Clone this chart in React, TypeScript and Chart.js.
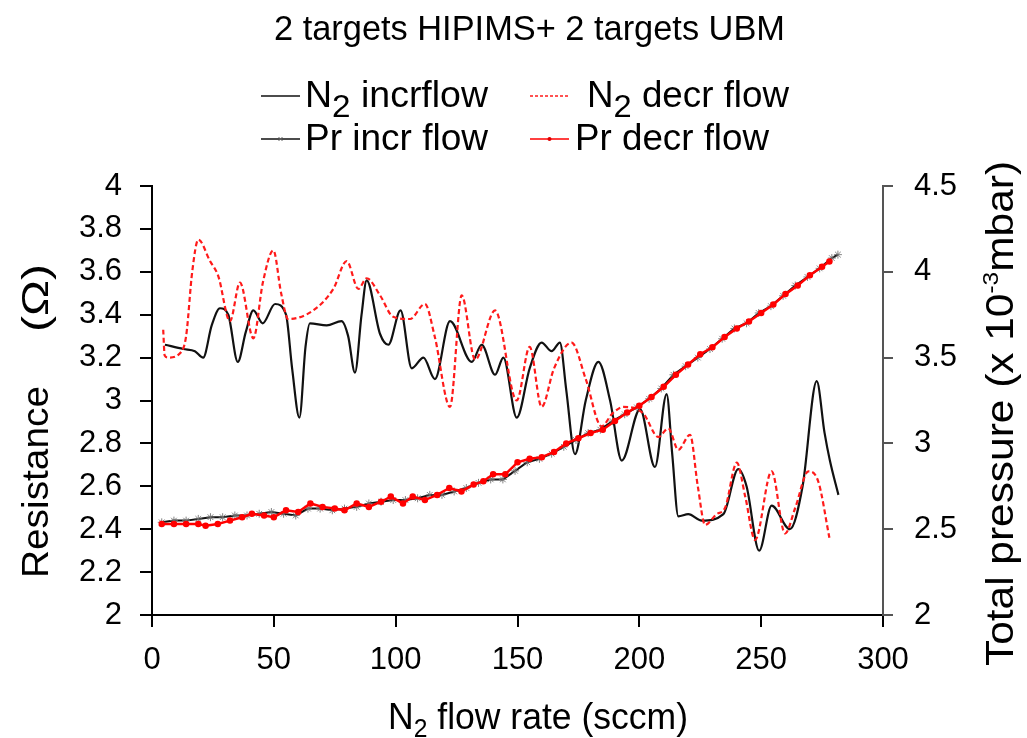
import React, { useEffect, useRef } from "react";
import { Chart, registerables } from "chart.js";

Chart.register(...registerables);

const FONT = "'Liberation Sans', Arial, Helvetica, sans-serif";

// ---- Data ----
const TITLE = "2 targets HIPIMS+ 2 targets UBM";
const SERIES_LABELS = ["N₂ incrflow", "N₂ decr flow", "Pr incr flow", "Pr decr flow"];

// Resistance, N2 increasing flow
const n2IncrX = [5.3, 12.9, 17.6, 21, 24.5, 27.9, 31.3, 35.2, 38.5, 41.6, 45.4, 50.5, 55, 57.5, 60.5, 63, 64.8, 71.7, 77.8, 80.5, 83.3, 86, 88.1, 93.6, 97, 102, 106.6, 111.4, 116.1, 122.3, 131.2, 135.3, 140.8, 144.2, 149.7, 155, 159.9, 164, 167.4, 170, 173.6, 178, 183.2, 188, 192.8, 200.3, 206.4, 211.2, 213.5, 216, 220.1, 225.6, 234.5, 240.6, 244, 249.2, 254.3, 261.8, 267, 272.8, 276, 278.2, 281.7];
const n2IncrR = [3.26, 3.24, 3.23, 3.2, 3.35, 3.43, 3.4, 3.18, 3.32, 3.42, 3.36, 3.45, 3.4, 3.15, 2.92, 3.25, 3.36, 3.35, 3.37, 3.3, 3.13, 3.4, 3.56, 3.31, 3.26, 3.42, 3.15, 3.2, 3.1, 3.37, 3.18, 3.26, 3.12, 3.2, 2.92, 3.15, 3.27, 3.23, 3.27, 3.05, 2.75, 3.0, 3.18, 3.0, 2.72, 2.96, 2.69, 3.03, 2.75, 2.46, 2.47, 2.44, 2.47, 2.68, 2.6, 2.3, 2.51, 2.4, 2.6, 3.09, 2.85, 2.72, 2.56];

// Resistance, N2 decreasing flow
const n2DecrX = [4.6, 5.2, 6.7, 11.5, 14, 16.5, 19, 23.8, 27.2, 32, 36.1, 41.6, 45.5, 49.8, 53, 55.9, 66.2, 74.4, 79.9, 84.7, 88.1, 93.6, 99, 105.9, 112, 116, 122.3, 127.1, 132.6, 140.8, 149.7, 155, 159.9, 165, 172.2, 178, 184.5, 189, 193.4, 201.6, 207.8, 211.9, 216, 220.8, 224, 227, 231.7, 235.2, 240, 243.5, 247.5, 254.3, 259.8, 264, 269.4, 273.5, 278];
const n2DecrR = [3.33, 3.21, 3.2, 3.22, 3.3, 3.6, 3.75, 3.65, 3.58, 3.37, 3.55, 3.29, 3.55, 3.7, 3.5, 3.38, 3.42, 3.52, 3.65, 3.52, 3.57, 3.49, 3.39, 3.38, 3.45, 3.3, 2.97, 3.49, 3.19, 3.42, 3.0, 3.25, 2.97, 3.15, 3.27, 3.1, 2.88, 2.94, 2.97, 2.94, 2.83, 2.87, 2.77, 2.84, 2.6, 2.42, 2.47, 2.5, 2.71, 2.55, 2.35, 2.67, 2.38, 2.5, 2.67, 2.62, 2.36];

// Total pressure, increasing flow
const prIncrX = [4, 9, 14, 19, 24, 29, 34, 39, 44, 49, 54, 59, 64, 69, 74, 79, 84, 89, 94, 99, 104, 109, 114, 119, 124, 129, 134, 139, 144, 149, 154, 159, 164, 169, 174, 179, 184, 189, 194, 199, 204, 209, 214, 219, 224, 229, 234, 239, 244, 249, 254, 259, 264, 269, 274, 279, 281.5];
const prIncrP = [2.54, 2.55, 2.55, 2.56, 2.57, 2.57, 2.58, 2.58, 2.59, 2.6, 2.59, 2.58, 2.62, 2.62, 2.61, 2.62, 2.63, 2.65, 2.66, 2.67, 2.67, 2.68, 2.7, 2.7, 2.72, 2.74, 2.77, 2.79, 2.79, 2.84, 2.89, 2.91, 2.94, 2.98, 3.02, 3.06, 3.08, 3.13, 3.17, 3.21, 3.26, 3.32, 3.4, 3.45, 3.5, 3.55, 3.61, 3.67, 3.7, 3.76, 3.8, 3.86, 3.92, 3.97, 4.02, 4.08, 4.1];

// Total pressure, decreasing flow
const prDecrX = [4, 9, 14, 19, 22, 27, 32, 37, 41, 46, 50, 55, 60, 65, 70, 75, 79, 84, 89, 94, 98, 103, 107, 112, 117, 122, 127, 132, 136, 140, 145, 150, 155, 160, 165, 170, 175, 180, 185, 190, 195, 200, 205, 210, 215, 220, 225, 230, 235, 240, 245, 250, 255, 260, 265, 270, 275, 278];
const prDecrP = [2.53, 2.53, 2.53, 2.53, 2.52, 2.53, 2.55, 2.57, 2.59, 2.58, 2.57, 2.61, 2.6, 2.65, 2.63, 2.62, 2.61, 2.65, 2.63, 2.66, 2.69, 2.65, 2.69, 2.67, 2.7, 2.74, 2.72, 2.76, 2.78, 2.82, 2.82, 2.89, 2.91, 2.92, 2.95, 3.0, 3.03, 3.06, 3.08, 3.13, 3.18, 3.22, 3.27, 3.33, 3.4, 3.46, 3.52, 3.56, 3.62, 3.67, 3.71, 3.76, 3.81, 3.87, 3.92, 3.98, 4.03, 4.06];

// Axes
const X_MIN = 0, X_MAX = 300, X_STEP = 50;
const R_MIN = 2, R_MAX = 4, R_STEP = 0.2;
const P_MIN = 2, P_MAX = 4.5, P_STEP = 0.5;

const toXY = (xs: number[], ys: number[]) => xs.map((x, i) => ({ x, y: ys[i] }));
const fmt = (v: number) => String(Math.round(Number(v) * 10) / 10);

type Seg = { t: string; size: number; dy?: number };

function drawRich(ctx: CanvasRenderingContext2D, segs: Seg[], x: number, y: number, width: number) {
  let total = 0;
  const ws = segs.map((s) => {
    ctx.font = `${s.size}px ${FONT}`;
    const w = ctx.measureText(s.t).width;
    total += w;
    return w;
  });
  const sx = width / total;
  ctx.save();
  ctx.translate(x, y);
  ctx.scale(sx, 1);
  let cx = 0;
  segs.forEach((s, i) => {
    ctx.font = `${s.size}px ${FONT}`;
    ctx.fillText(s.t, cx, s.dy || 0);
    cx += ws[i];
  });
  ctx.restore();
}

const textPlugin = {
  id: "customTexts",
  afterDraw(chart: any) {
    const ctx: CanvasRenderingContext2D = chart.ctx;
    const ds = chart.data.datasets;
    ctx.save();
    ctx.fillStyle = "#000";
    ctx.textAlign = "left";
    ctx.textBaseline = "alphabetic";

    // Title
    drawRich(ctx, [{ t: TITLE, size: 35 }], 274, 40, 511);

    // Legend
    const rows = [96, 139];
    const bases = [107, 150];
    const items = [
      { ds: 0, lx: 261, lx2: 300, row: 0, tx: 305, tw: 183, segs: [{ t: "N", size: 36 }, { t: "2", size: 32, dy: 10 }, { t: " incrflow", size: 36 }] },
      { ds: 1, lx: 530, lx2: 569, row: 0, tx: 587, tw: 202, segs: [{ t: "N", size: 36 }, { t: "2", size: 32, dy: 10 }, { t: " decr flow", size: 36 }] },
      { ds: 2, lx: 261, lx2: 300, row: 1, tx: 305, tw: 183, segs: [{ t: SERIES_LABELS[2], size: 36 }] },
      { ds: 3, lx: 530, lx2: 569, row: 1, tx: 575, tw: 194, segs: [{ t: SERIES_LABELS[3], size: 36 }] },
    ];
    items.forEach((it) => {
      const d = ds[it.ds];
      const ly = rows[it.row];
      ctx.save();
      ctx.strokeStyle = d.borderColor;
      ctx.lineWidth = 1.6;
      ctx.setLineDash(d.borderDash ? [3, 2] : []);
      ctx.beginPath();
      ctx.moveTo(it.lx, ly);
      ctx.lineTo(it.lx2, ly);
      ctx.stroke();
      ctx.setLineDash([]);
      const mx = (it.lx + it.lx2) / 2;
      if (it.ds === 2) {
        ctx.strokeStyle = "#666";
        ctx.lineWidth = 1;
        ctx.beginPath();
        ctx.moveTo(mx - 2, ly - 2); ctx.lineTo(mx + 2, ly + 2);
        ctx.moveTo(mx - 2, ly + 2); ctx.lineTo(mx + 2, ly - 2);
        ctx.stroke();
      } else if (it.ds === 3) {
        ctx.fillStyle = "#e00000";
        ctx.beginPath();
        ctx.arc(mx, ly, 2, 0, Math.PI * 2);
        ctx.fill();
      }
      ctx.restore();
      drawRich(ctx, it.segs, it.tx, bases[it.row], it.tw);
    });

    // X axis title
    drawRich(ctx, [{ t: "N", size: 36 }, { t: "2", size: 25, dy: 8 }, { t: " flow rate (sccm)", size: 36 }], 388, 729, 300);

    // Left axis title (rotated)
    ctx.save();
    ctx.translate(48, 578);
    ctx.rotate(-Math.PI / 2);
    drawRich(ctx, [{ t: "Resistance", size: 37 }], 0, 0, 192);
    drawRich(ctx, [{ t: "(Ω)", size: 37 }], 246, 0, 68);
    ctx.restore();

    // Right axis title (rotated)
    ctx.save();
    ctx.translate(1013, 666);
    ctx.rotate(-Math.PI / 2);
    drawRich(ctx, [{ t: "Total pressure (x 10", size: 38 }, { t: "-3", size: 22, dy: -15 }, { t: "mbar)", size: 38 }], 0, 0, 505);
    ctx.restore();

    ctx.restore();
  },
};

export default function App() {
  const ref = useRef<HTMLCanvasElement | null>(null);

  useEffect(() => {
    if (!ref.current) return;
    const tickFont = { size: 31, family: FONT };
    const chart = new Chart(ref.current, {
      type: "line",
      data: {
        datasets: [
          {
            label: SERIES_LABELS[0],
            data: toXY(n2IncrX, n2IncrR),
            borderColor: "#111111",
            borderWidth: 2.2,
            pointRadius: 0,
            cubicInterpolationMode: "monotone",
            yAxisID: "y",
            order: 4,
          },
          {
            label: SERIES_LABELS[1],
            data: toXY(n2DecrX, n2DecrR),
            borderColor: "#ff1a1a",
            borderWidth: 2.2,
            borderDash: [5, 3],
            pointRadius: 0,
            cubicInterpolationMode: "monotone",
            yAxisID: "y",
            order: 3,
          },
          {
            label: SERIES_LABELS[2],
            data: toXY(prIncrX, prIncrP),
            borderColor: "#111111",
            borderWidth: 2,
            pointStyle: "star",
            pointRadius: 4,
            pointBorderColor: "rgba(110,110,110,0.85)",
            pointBorderWidth: 1,
            tension: 0,
            yAxisID: "y1",
            order: 2,
          },
          {
            label: SERIES_LABELS[3],
            data: toXY(prDecrX, prDecrP),
            borderColor: "#ff0000",
            borderWidth: 2.5,
            pointRadius: 2,
            pointBackgroundColor: "#ff0000",
            pointBorderColor: "#ff0000",
            tension: 0,
            yAxisID: "y1",
            order: 1,
          },
        ],
      },
      options: {
        responsive: false,
        animation: false,
        devicePixelRatio: 1,
        layout: { padding: { top: 186, left: 0, right: 0, bottom: 0 } },
        plugins: { legend: { display: false }, tooltip: { enabled: false }, title: { display: false } },
        events: [],
        scales: {
          x: {
            type: "linear",
            position: "bottom",
            min: X_MIN,
            max: X_MAX,
            ticks: { stepSize: X_STEP, font: tickFont, color: "#000", padding: 15, maxRotation: 0 },
            grid: { drawOnChartArea: false, tickLength: 12, color: "#000", lineWidth: 2 },
            border: { color: "#000", width: 2 },
            afterFit: (s: any) => { s.height = 123; },
          },
          y: {
            type: "linear",
            position: "left",
            min: R_MIN,
            max: R_MAX,
            ticks: { stepSize: R_STEP, font: tickFont, color: "#000", padding: 18, callback: (v: any) => fmt(v) },
            grid: { drawOnChartArea: false, tickLength: 12, color: "#000", lineWidth: 2 },
            border: { color: "#000", width: 2 },
            afterFit: (s: any) => { s.width = 152; },
          },
          y1: {
            type: "linear",
            position: "right",
            min: P_MIN,
            max: P_MAX,
            ticks: { stepSize: P_STEP, font: tickFont, color: "#000", padding: 21, callback: (v: any) => fmt(v) },
            grid: { drawOnChartArea: false, tickLength: 10, color: "#555", lineWidth: 2 },
            border: { color: "#555", width: 2 },
            afterFit: (s: any) => { s.width = 144; },
          },
        },
      },
      plugins: [textPlugin],
    } as any);
    return () => chart.destroy();
  }, []);

  return (
    <div style={{ position: "absolute", left: 0, top: 0, width: 1027, height: 738, background: "#fff" }}>
      <canvas ref={ref} width={1027} height={738} style={{ width: 1027, height: 738, display: "block" }} />
    </div>
  );
}
